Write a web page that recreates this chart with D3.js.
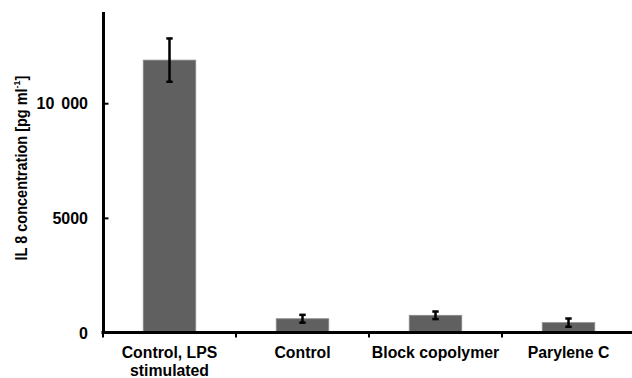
<!DOCTYPE html>
<html>
<head>
<meta charset="utf-8">
<script src="https://cdn.jsdelivr.net/npm/d3@7"></script>
<style>
  body { margin: 0; background: #fff; }
  text { font-family: "Liberation Sans", Arial, sans-serif; font-weight: bold; fill: #000; }
</style>
</head>
<body>
<div id="wrapper"></div>
<script>
const categories = [["Control, LPS", "stimulated"], ["Control"], ["Block copolymer"], ["Parylene C"]]
const values = [11880, 600, 750, 430]
const errors = [945, 170, 165, 180]
const yTicks = [0, 5000, 10000]
const yTickLabels = ["0", "5000", "10 000"]

function drawBarChart() {
  let dimensions = {
    width: 632,
    height: 378,
    margin: { top: 11.5, right: -3, bottom: 45.5, left: 103 },
  }
  dimensions.boundedWidth = dimensions.width - dimensions.margin.left - dimensions.margin.right
  dimensions.boundedHeight = dimensions.height - dimensions.margin.top - dimensions.margin.bottom

  const wrapper = d3.select("#wrapper")
    .append("svg")
    .attr("width", dimensions.width)
    .attr("height", dimensions.height)

  const bounds = wrapper.append("g")
    .attr("transform", `translate(${dimensions.margin.left},${dimensions.margin.top})`)

  const idx = d3.range(values.length)

  const xScaler = d3.scaleBand()
    .domain(idx)
    .range([0, dimensions.boundedWidth])
    .paddingInner(0.605)
    .paddingOuter(0.3025)

  const yScaler = d3.scaleLinear()
    .domain([0, 14000])
    .range([dimensions.boundedHeight, 0])

  // bars
  bounds.selectAll(".bar")
    .data(idx)
    .join("rect")
    .attr("class", "bar")
    .attr("x", i => xScaler(i))
    .attr("width", xScaler.bandwidth())
    .attr("y", i => yScaler(values[i]))
    .attr("height", i => yScaler(0) - yScaler(values[i]))
    .attr("fill", "#606060")
    .attr("stroke", "#8c8c8c")
    .attr("stroke-width", 0.8)

  // error bars
  const cx = i => xScaler(i) + xScaler.bandwidth() / 2
  const err = bounds.selectAll(".err")
    .data(idx)
    .join("g")
    .attr("class", "err")
    .attr("stroke", "#000")
    .attr("stroke-width", 2.5)
  err.append("line")
    .attr("x1", cx).attr("x2", cx)
    .attr("y1", i => yScaler(values[i] + errors[i]))
    .attr("y2", i => yScaler(values[i] - errors[i]))
  err.append("line")
    .attr("x1", i => cx(i) - 3.2).attr("x2", i => cx(i) + 3.2)
    .attr("y1", i => yScaler(values[i] + errors[i]))
    .attr("y2", i => yScaler(values[i] + errors[i]))
  err.append("line")
    .attr("x1", i => cx(i) - 3.2).attr("x2", i => cx(i) + 3.2)
    .attr("y1", i => yScaler(values[i] - errors[i]))
    .attr("y2", i => yScaler(values[i] - errors[i]))

  // y axis
  const yAxisGenerator = d3.axisRight()
    .scale(yScaler)
    .tickValues(yTicks)
    .tickFormat((d, i) => yTickLabels[i])
    .tickSize(5.5)
    .tickSizeOuter(0)
  const yAxis = bounds.append("g").call(yAxisGenerator)
  yAxis.select(".domain").attr("stroke-width", 3)
  yAxis.selectAll(".tick line").attr("stroke-width", 2)
  yAxis.selectAll(".tick text")
    .attr("x", -15)
    .attr("dy", "0.36em")
    .attr("text-anchor", "end")
    .style("font-size", "16px")
    .style("word-spacing", "2.5px")

  // x axis
  const xAxis = bounds.append("g")
    .attr("transform", `translate(0,${dimensions.boundedHeight})`)
  xAxis.append("line")
    .attr("x1", -1.5).attr("x2", dimensions.boundedWidth)
    .attr("stroke", "#000").attr("stroke-width", 3)
  xAxis.selectAll(".xtick")
    .data(d3.range(values.length + 1))
    .join("line")
    .attr("class", "xtick")
    .attr("x1", i => i * xScaler.step()).attr("x2", i => i * xScaler.step())
    .attr("y1", 0).attr("y2", 5)
    .attr("stroke", "#000").attr("stroke-width", 2)
  const xLabels = xAxis.selectAll(".xlabel")
    .data(idx)
    .join("text")
    .attr("class", "xlabel")
    .attr("text-anchor", "middle")
    .attr("y", 25.8)
    .style("font-size", "15.8px")
  xLabels.selectAll("tspan")
    .data(i => categories[i].map(t => ({ t, i })))
    .join("tspan")
    .attr("x", d => cx(d.i))
    .attr("dy", (d, j) => j === 0 ? 0 : 17.3)
    .text(d => d.t)

  // y axis label
  const yLabel = wrapper.append("text")
    .attr("transform", `translate(26.5,${dimensions.margin.top + dimensions.boundedHeight / 2 - 4}) rotate(-90) scale(1,1.1)`)
    .attr("text-anchor", "middle")
    .style("font-size", "14.5px")
  yLabel.append("tspan").text("IL 8 concentration [pg ml")
  yLabel.append("tspan").attr("dy", -6).style("font-size", "9px").text("-1")
  yLabel.append("tspan").attr("dy", 6).text("]")
}
drawBarChart()
</script>
</body>
</html>
